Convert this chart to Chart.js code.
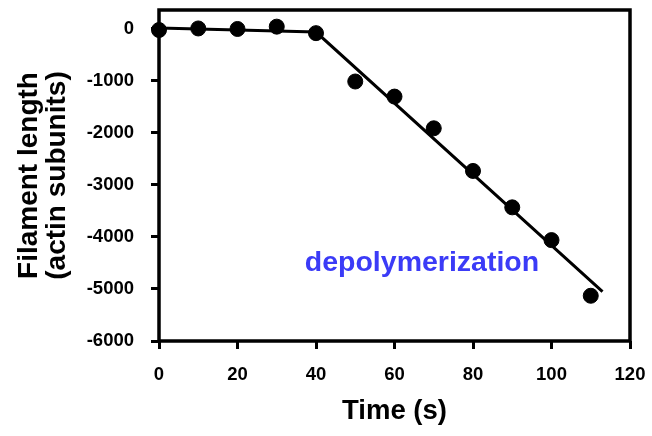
<!DOCTYPE html>
<html>
<head>
<meta charset="utf-8">
<script src="https://cdn.jsdelivr.net/npm/chart.js@4/dist/chart.umd.min.js"></script>
<style>
  html, body { margin: 0; padding: 0; background: #fff; }
  #wrap { width: 652px; height: 436px; }
</style>
</head>
<body>
<div id="wrap"><canvas id="lenChart" width="652" height="436"></canvas></div>
<script>
// measured points
const timeSec = [0, 10, 20, 30, 40, 50, 60, 70, 80, 90, 100, 110];
const filLength = [-20, 10, 0, 45, -80, -1010, -1300, -1910, -2730, -3430, -4060, -5130];

// fitted line (two segments)
const fitTime = [0, 40, 113];
const fitLength = [20, -60, -5050];

const xTicks = [0, 20, 40, 60, 80, 100, 120];
const yTicks = [0, -1000, -2000, -3000, -4000, -5000, -6000];

const noteText = 'depolymerization';
const noteAt = { x: 67, y: -4500 };

const FONT = "'Liberation Sans', Arial, sans-serif";

const frameBox = {
    id: 'frameBox',
    afterDatasetsDraw(chart) {
        const a = chart.chartArea;
        const ctx = chart.ctx;
        ctx.save();
        ctx.strokeStyle = '#000';
        ctx.lineWidth = 3.5;
        ctx.strokeRect(a.left, a.top, a.right - a.left, a.bottom - a.top);
        // label
        const x = chart.scales.x.getPixelForValue(noteAt.x);
        const y = chart.scales.y.getPixelForValue(noteAt.y);
        ctx.fillStyle = '#3b3bf7';
        ctx.font = 'bold 28.5px ' + FONT;
        ctx.textAlign = 'center';
        ctx.textBaseline = 'middle';
        ctx.fillText(noteText, x, y);
        ctx.restore();
    }
};

new Chart(document.getElementById('lenChart'), {
    type: 'scatter',
    data: {
        datasets: [{
            label: 'data',
            data: timeSec.map((t, i) => ({ x: t, y: filLength[i] })),
            backgroundColor: '#000',
            borderColor: '#000',
            pointRadius: 7.5,
            pointHoverRadius: 7.5,
            showLine: false,
            clip: false,
            order: 0
        }, {
            label: 'fit',
            data: fitTime.map((t, i) => ({ x: t, y: fitLength[i] })),
            borderColor: '#000',
            borderWidth: 3,
            pointRadius: 0,
            showLine: true,
            clip: false,
            order: 1
        }]
    },
    options: {
        responsive: false,
        animation: false,
        layout: { padding: 0 },
        plugins: { legend: { display: false }, tooltip: { enabled: false } },
        scales: {
            x: {
                type: 'linear',
                min: 0,
                max: 120,
                afterBuildTicks: (s) => { s.ticks = xTicks.map(v => ({ value: v })); },
                afterFit: (s) => {
                    s.height = 95;
                    s.paddingLeft = 0;
                    s.paddingRight = 22;
                },
                grid: { drawOnChartArea: false, drawTicks: true, tickLength: 8, tickWidth: 3, tickColor: '#000' },
                border: { display: false },
                ticks: {
                    color: '#000',
                    padding: 15,
                    maxRotation: 0,
                    callback: (v) => String(v),
                    font: { family: FONT, size: 18.5, weight: 'bold' }
                },
                title: {
                    display: true,
                    text: 'Time (s)',
                    color: '#000',
                    padding: { top: 4, bottom: 8 },
                    font: { family: FONT, size: 27.5, weight: 'bold' }
                }
            },
            y: {
                min: -6000,
                max: 365,
                afterBuildTicks: (s) => { s.ticks = yTicks.map(v => ({ value: v })); },
                afterFit: (s) => {
                    s.width = 159;
                    s.paddingTop = 10;
                    s.paddingBottom = 0;
                },
                grid: { drawOnChartArea: false, drawTicks: true, tickLength: 8, tickWidth: 3, tickColor: '#000' },
                border: { display: false },
                ticks: {
                    color: '#000',
                    padding: 17,
                    callback: (v) => String(v),
                    font: { family: FONT, size: 18.5, weight: 'bold' }
                },
                title: {
                    display: true,
                    text: ['Filament length', '(actin subunits)'],
                    color: '#000',
                    padding: { top: 15, bottom: 0 },
                    font: { family: FONT, size: 28, weight: 'bold', lineHeight: 1.0 }
                }
            }
        }
    },
    plugins: [frameBox]
});
</script>
</body>
</html>
